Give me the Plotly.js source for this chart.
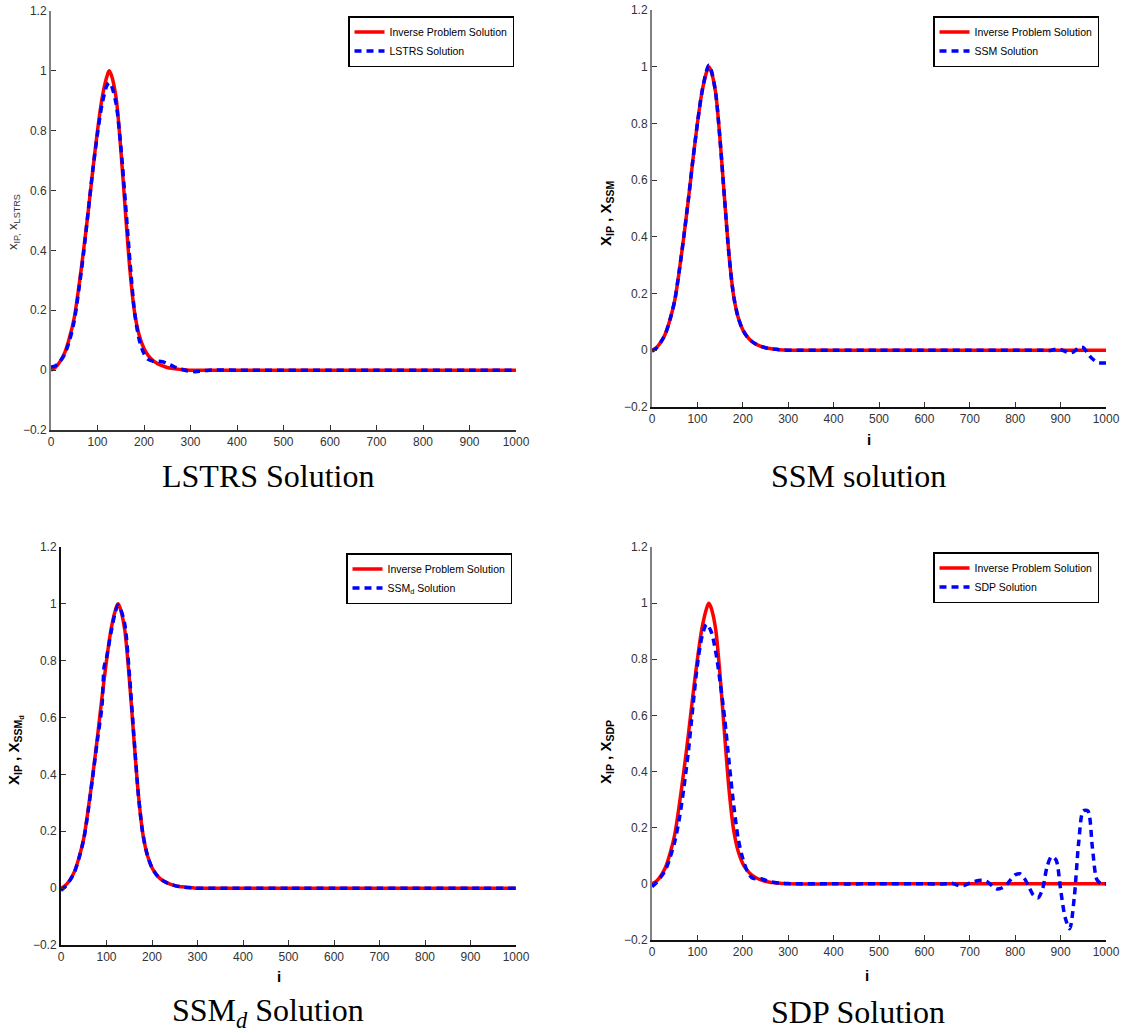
<!DOCTYPE html>
<html>
<head>
<meta charset="utf-8">
<script src="https://cdn.plot.ly/plotly-3.0.1.min.js"></script>
<style>html,body{margin:0;padding:0;background:#fff;}#chart{width:1125px;height:1033px;}</style>
</head>
<body>
<div id="chart"></div>
<script>
// ---------- data ----------
const iIP   = [0,10,20,30,40,50,60,70,80,90,100,110,120,125,130,140,150,160,170,180,190,200,210,220,230,240,250,260,270,280,290,300,400,500,600,700,800,900,1000];
const xIP   = [0,0.01,0.03,0.06,0.11,0.175,0.28,0.40,0.53,0.67,0.80,0.91,0.98,1.0,0.985,0.91,0.74,0.53,0.33,0.19,0.115,0.072,0.047,0.031,0.021,0.014,0.009,0.006,0.004,0.002,0.001,0,0,0,0,0,0,0,0];

const iLSTRS = [0,10,20,30,40,50,60,70,80,90,100,110,120,125,130,140,150,160,170,180,190,200,210,220,230,240,250,260,270,280,290,300,310,320,330,340,400,500,600,700,800,900,1000];
const xLSTRS = [0.01,0.015,0.03,0.055,0.10,0.165,0.27,0.39,0.53,0.67,0.79,0.89,0.95,0.96,0.95,0.89,0.75,0.56,0.36,0.19,0.10,0.055,0.035,0.03,0.03,0.028,0.022,0.015,0.008,0.003,-0.001,-0.004,-0.005,-0.004,-0.002,0,0,0,0,0,0,0,0];

const iSSM = [0,10,20,30,40,50,60,70,80,90,100,110,120,125,130,140,150,160,170,180,190,200,210,220,230,240,250,260,270,280,290,300,400,500,600,700,800,850,860,870,880,890,900,910,920,930,940,950,960,970,980,990,1000];
const xSSM = [-0.003,0.008,0.03,0.06,0.11,0.175,0.28,0.40,0.53,0.67,0.80,0.91,0.985,1.005,0.99,0.91,0.74,0.53,0.33,0.19,0.115,0.072,0.047,0.031,0.021,0.014,0.009,0.006,0.004,0.002,0.001,0,0,0,0,0,0,0,0,-0.002,0,0.004,0.003,-0.004,-0.01,-0.004,0.01,0.01,-0.012,-0.03,-0.042,-0.045,-0.045];

const iSSMd = [0,10,20,30,40,50,60,70,80,90,95,100,110,120,125,130,140,150,160,170,180,190,200,210,220,230,240,250,260,270,280,290,300,400,500,600,700,800,900,1000];
const xSSMd = [-0.008,0.006,0.028,0.058,0.108,0.172,0.275,0.395,0.52,0.64,0.78,0.81,0.90,0.975,0.995,0.985,0.93,0.76,0.54,0.33,0.19,0.115,0.072,0.047,0.031,0.021,0.014,0.009,0.006,0.004,0.002,0.001,0,0,0,0,0,0,0,0];

const iSDP = [0,10,20,30,40,50,60,70,80,90,100,110,120,130,140,150,160,170,180,190,200,210,220,230,240,250,260,270,280,290,300,400,500,600,650,660,670,680,690,700,710,720,730,740,750,760,770,780,790,800,810,820,830,840,850,860,870,880,890,900,910,920,930,940,950,960,970,980,990,1000];
const xSDP = [-0.01,0.005,0.025,0.05,0.095,0.15,0.23,0.34,0.47,0.63,0.78,0.88,0.925,0.90,0.83,0.72,0.59,0.43,0.28,0.16,0.09,0.045,0.022,0.018,0.018,0.013,0.008,0.005,0.003,0.002,0.001,0,0,0,0,0.002,-0.003,-0.007,-0.004,0.003,0.008,0.012,0.012,0.006,-0.008,-0.018,-0.015,-0.005,0.015,0.032,0.036,0.02,-0.01,-0.04,-0.05,-0.02,0.06,0.097,0.085,-0.02,-0.12,-0.16,-0.05,0.15,0.26,0.26,0.13,0.015,0,0];

const xTicks = [0,100,200,300,400,500,600,700,800,900,1000];
const yTicks = [-0.2,0,0.2,0.4,0.6,0.8,1,1.2];

const ipName = 'Inverse Problem Solution';
const solNames = ['LSTRS Solution','SSM Solution','SSM<sub>d</sub> Solution','SDP Solution'];
const panelTitles = ['LSTRS Solution','SSM solution','SSM<sub><i>d</i></sub> Solution','SDP Solution'];

// ---------- traces ----------
const RED = '#ff0000', BLUE = '#0000ff';
const sols = [[iLSTRS,xLSTRS],[iSSM,xSSM],[iSSMd,xSSMd],[iSDP,xSDP]];
const traces = [];
for (let k = 0; k < 4; k++) {
  const ax = k === 0 ? '' : String(k+1);
  const lg = k === 0 ? 'legend' : 'legend' + (k+1);
  traces.push({x: iIP, y: xIP, type:'scatter', mode:'lines', name: ipName,
    xaxis:'x'+ax, yaxis:'y'+ax, legend: lg,
    line:{color:RED, width:3.5, shape:'spline', smoothing:0.8}});
  traces.push({x: sols[k][0], y: sols[k][1], type:'scatter', mode:'lines', name: solNames[k],
    xaxis:'x'+ax, yaxis:'y'+ax, legend: lg,
    line:{color:BLUE, width:3.5, dash:'7px,5px', shape:'spline', smoothing:0.8}});
}

// ---------- layout ----------
const W = 1125, H = 1033;
const px = v => v / W, py = v => 1 - v / H;
const tickFont = {family:'Liberation Sans, Arial, sans-serif', size:12, color:'#333'};
function xax(d0, d1, anchor, lc) {
  return {domain:[px(d0), px(d1)], anchor:anchor, range:[0,1000], tickvals:xTicks, ticktext:xTicks.map(String),
    showgrid:false, zeroline:false, showline:true, linecolor:lc, linewidth:1.5, ticks:'inside', ticklen:5,
    tickcolor:'#333', tickfont:tickFont, fixedrange:true};
}
function yax(top, bot, anchor, lc) {
  return {domain:[py(bot), py(top)], anchor:anchor, range:[-0.2,1.2], tickvals:yTicks,
    showgrid:false, zeroline:false, showline:true, linecolor:lc, linewidth:2, ticks:'inside', ticklen:5,
    tickcolor:'#333', tickfont:tickFont, fixedrange:true};
}
function legend(xr, yt) {
  return {x: px(xr), y: py(yt), xanchor:'right', yanchor:'top', bgcolor:'#fff', bordercolor:'#000', borderwidth:1.5,
    font:{family:'Liberation Sans, Arial, sans-serif', size:10.5, color:'#000'}, itemwidth:30, tracegroupgap:0};
}
const titleFont = {family:'Liberation Serif, Times New Roman, serif', size:32, color:'#000'};
const labFont = {family:'Liberation Sans, Arial, sans-serif', size:15, color:'#000'};
function ann(text, x, y, font, angle) {
  const a = {text:text, x:px(x), y:py(y), xref:'paper', yref:'paper', showarrow:false,
    xanchor:'center', yanchor:'middle', font:font};
  if (angle !== undefined) a.textangle = angle;
  return a;
}
const annotations = [
  ann(panelTitles[0], 268, 476, titleFont),
  ann(panelTitles[1], 858, 476, titleFont),
  ann(panelTitles[2], 268, 1012, titleFont),
  ann(panelTitles[3], 858, 1012, titleFont),
  ann('x<sub>IP,</sub> x<sub>LSTRS</sub>', 14, 222, {family:'Liberation Sans, Arial, sans-serif', size:13, color:'#333'}, -90),
  ann('<b>X<sub>IP</sub> , X<sub>SSM</sub></b>', 606, 214, labFont, -90),
  ann('<b>X<sub>IP</sub> , X<sub>SSM<sub>d</sub></sub></b>', 15, 750, labFont, -90),
  ann('<b>X<sub>IP</sub> , X<sub>SDP</sub></b>', 606, 752, labFont, -90),
  ann('<b>i</b>', 869, 439, labFont),
  ann('<b>i</b>', 279, 976, labFont),
  ann('<b>i</b>', 867, 975, labFont)
];

const layout = {
  width:W, height:H, margin:{l:0,r:0,t:0,b:0}, paper_bgcolor:'#fff', plot_bgcolor:'#fff',
  showlegend:true,
  xaxis: xax(51, 516, 'y', '#333'),   yaxis: yax(11, 430, 'x', '#808080'),
  xaxis2: xax(652, 1106, 'y2', '#111'), yaxis2: yax(10, 407, 'x2', '#808080'),
  xaxis3: xax(61, 516, 'y3', '#111'),  yaxis3: yax(547, 945, 'x3', '#111'),
  xaxis4: xax(652, 1106, 'y4', '#111'), yaxis4: yax(547, 940, 'x4', '#808080'),
  legend: legend(514, 16), legend2: legend(1099, 16), legend3: legend(512, 553), legend4: legend(1099, 552),
  annotations: annotations
};

Plotly.newPlot('chart', traces, layout, {displayModeBar:false, staticPlot:true});
</script>
</body>
</html>
